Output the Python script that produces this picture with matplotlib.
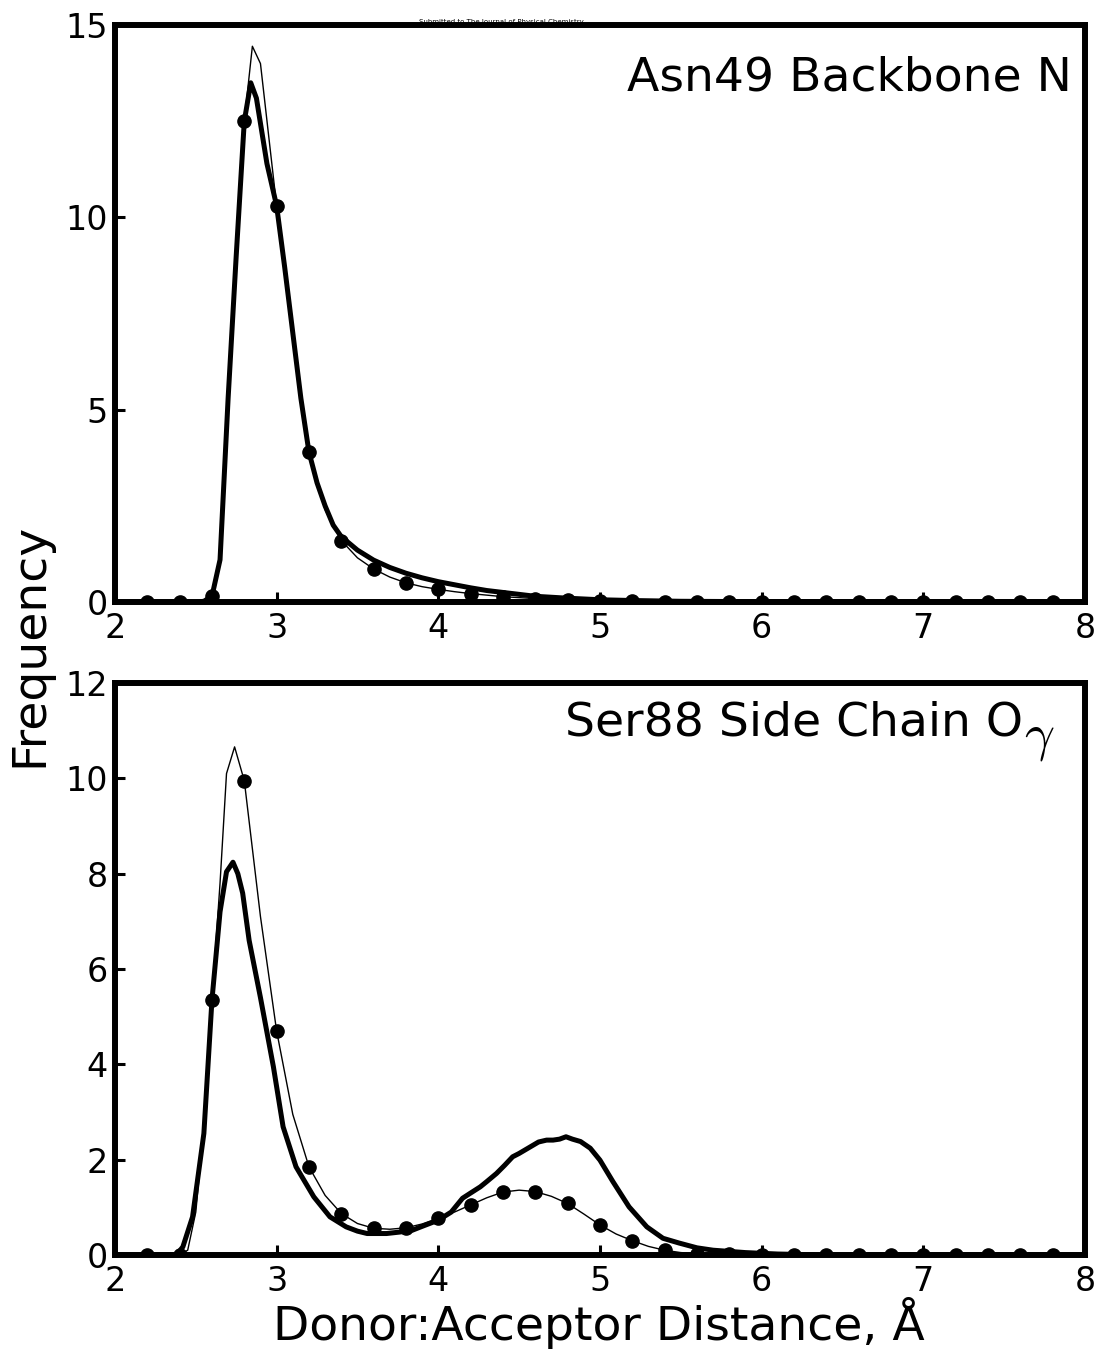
import numpy as np
from matplotlib import pyplot as plt

# ---- Asn49 backbone N (top panel) ----
asn_thick_x=[2.0,2.5,2.55,2.6,2.65,2.7,2.75,2.8,2.84,2.875,2.94,3.0,3.05,3.1,3.15,3.2,3.25,3.3,3.35,3.4,3.5,3.6,3.7,3.8,3.9,4.0,4.1,4.2,4.3,4.4,4.5,4.6,4.8,5.0,5.2,5.5,6.0,8.0]
asn_thick_y=[0,0,0.02,0.15,1.1,5.3,9.0,12.5,13.5,13.1,11.4,10.3,8.7,7.0,5.3,3.9,3.1,2.5,2.0,1.7,1.35,1.09,0.9,0.75,0.63,0.53,0.45,0.37,0.3,0.25,0.2,0.15,0.1,0.06,0.04,0.02,0.01,0]
asn_thin_x=[2.0,2.5,2.55,2.6,2.65,2.7,2.75,2.8,2.85,2.9,3.0,3.05,3.1,3.15,3.2,3.3,3.4,3.5,3.6,3.7,3.8,3.9,4.0,4.1,4.2,4.4,4.6,4.8,5.0,5.2,5.5,6.0,8.0]
asn_thin_y=[0,0,0.02,0.15,1.1,5.5,9.2,12.5,14.45,14.0,10.3,8.7,7.0,5.3,3.9,2.4,1.6,1.15,0.86,0.65,0.5,0.4,0.33,0.27,0.22,0.14,0.09,0.05,0.03,0.02,0.01,0,0]
asn_dot_x=[2.2,2.4,2.6,2.8,3.0,3.2,3.4,3.6,3.8,4.0,4.2,4.4,4.6,4.8,5.0,5.2,5.4,5.6,5.8,6.0,6.2,6.4,6.6,6.8,7.0,7.2,7.4,7.6,7.8]
asn_dot_y=[0,0,0.15,12.5,10.3,3.9,1.6,0.86,0.5,0.33,0.22,0.14,0.09,0.05,0.03,0.02,0.01,0,0,0,0,0,0,0,0,0,0,0,0]

# ---- Ser88 side chain O gamma (bottom panel) ----
ser_thick_x=[2.0,2.38,2.42,2.48,2.55,2.6,2.65,2.69,2.73,2.76,2.79,2.83,2.9,2.98,3.04,3.12,3.23,3.33,3.43,3.5,3.56,3.68,3.76,3.84,3.9,4.0,4.08,4.15,4.2,4.26,4.3,4.36,4.41,4.46,4.5,4.57,4.62,4.67,4.71,4.75,4.79,4.83,4.88,4.94,5.0,5.08,5.18,5.29,5.39,5.49,5.6,5.7,5.9,6.1,6.4,8.0]
ser_thick_y=[0,0,0.17,0.8,2.55,5.35,7.2,8.04,8.24,8.0,7.59,6.6,5.4,3.95,2.69,1.85,1.22,0.8,0.59,0.5,0.45,0.45,0.48,0.52,0.6,0.73,0.9,1.19,1.3,1.43,1.54,1.71,1.88,2.06,2.13,2.27,2.37,2.41,2.41,2.43,2.48,2.43,2.38,2.24,1.99,1.54,1.01,0.59,0.35,0.25,0.15,0.1,0.05,0.02,0,0]
ser_thin_x=[2.0,2.4,2.45,2.5,2.55,2.6,2.65,2.69,2.74,2.8,2.9,3.0,3.1,3.2,3.3,3.4,3.5,3.6,3.7,3.8,3.9,4.0,4.1,4.2,4.3,4.4,4.5,4.6,4.7,4.8,4.9,5.0,5.1,5.2,5.3,5.4,5.5,5.6,5.8,6.0,8.0]
ser_thin_y=[0,0,0.1,0.9,2.7,5.35,7.8,10.1,10.66,9.95,7.1,4.7,2.95,1.85,1.25,0.87,0.66,0.56,0.54,0.57,0.65,0.77,0.9,1.05,1.2,1.32,1.36,1.33,1.23,1.08,0.86,0.63,0.44,0.3,0.18,0.1,0.05,0.03,0.01,0,0]
ser_dot_x=[2.2,2.4,2.6,2.8,3.0,3.2,3.4,3.6,3.8,4.0,4.2,4.4,4.6,4.8,5.0,5.2,5.4,5.6,5.8,6.0,6.2,6.4,6.6,6.8,7.0,7.2,7.4,7.6,7.8]
ser_dot_y=[0,0,5.35,9.95,4.7,1.85,0.87,0.56,0.57,0.77,1.05,1.32,1.33,1.08,0.63,0.3,0.1,0.03,0.01,0,0,0,0,0,0,0,0,0,0]

x_ticks=[2,3,4,5,6,7,8]
asn_yticks=[0,5,10,15]
ser_yticks=[0,2,4,6,8,10,12]

def draw_panel(ax,thick_x,thick_y,thin_x,thin_y,dot_x,dot_y,yticks):
    ax.plot(thin_x,thin_y,c='k',lw=1.0)
    ax.plot(dot_x,dot_y,c='k',marker='o',ms=9.5,linestyle='None')
    ax.plot(thick_x,thick_y,c='k',lw=3.6)
    ax.set_xlim(2,8)
    ax.set_ylim(yticks[0],yticks[-1])
    ax.set_xticks(x_ticks)
    ax.set_yticks(yticks)
    for s in ax.spines.values():
        s.set_linewidth(4.3)
    ax.tick_params(direction='in',length=7,width=2.2,labelsize=24,top=False,right=False)
    ax.tick_params(axis='x',pad=7)
    ax.tick_params(axis='y',pad=5)

fig=plt.figure(figsize=(10.98,13.49),dpi=100)
ax1=fig.add_axes([0.1047,0.5537,0.8834,0.4277])
ax2=fig.add_axes([0.1047,0.0697,0.8834,0.4240])

draw_panel(ax1,asn_thick_x,asn_thick_y,asn_thin_x,asn_thin_y,asn_dot_x,asn_dot_y,asn_yticks)
draw_panel(ax2,ser_thick_x,ser_thick_y,ser_thin_x,ser_thin_y,ser_dot_x,ser_dot_y,ser_yticks)

ax1.text(0.9866,0.887,'Asn49 Backbone N',transform=ax1.transAxes,ha='right',va='baseline',fontsize=34)
ax2.text(0.936,0.909,'Ser88 Side Chain O',transform=ax2.transAxes,ha='right',va='baseline',fontsize=34)
ax2.text(0.9526,0.905,r'$\gamma$',transform=ax2.transAxes,ha='center',va='center',fontsize=38,math_fontfamily='cm')

fig.text(0.027,0.522,'Frequency',rotation=90,ha='center',va='center',fontsize=34)
fig.text(0.5455,0.0067,'Donor:Acceptor Distance, Å',ha='center',va='baseline',fontsize=34)
fig.text(0.457,0.9835,'Submitted to The Journal of Physical Chemistry',ha='center',va='center',fontsize=5)

fig.savefig('out.png',dpi=100)
